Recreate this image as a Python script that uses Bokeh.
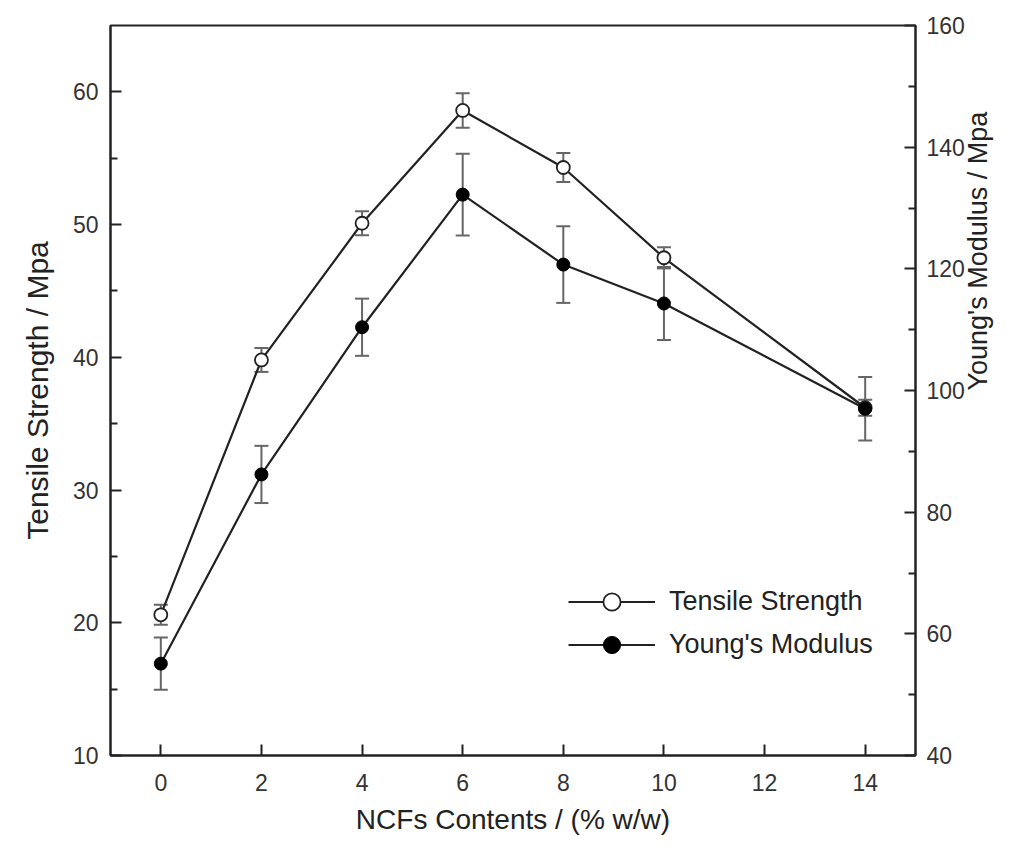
import math
from bokeh.plotting import figure
from bokeh.models import (Range1d, LinearAxis, FixedTicker, ColumnDataSource, Whisker,
                          TeeHead, Legend, LegendItem)
from bokeh.embed import file_html
from bokeh.resources import INLINE

# ---- data ----
ncf_content = [0, 2, 4, 6, 8, 10, 14]
tensile_strength = [20.6, 39.8, 50.1, 58.6, 54.3, 47.5, 36.2]
tensile_err = [0.75, 0.9, 0.9, 1.3, 1.1, 0.8, 0.6]
youngs_modulus = [55.1, 86.2, 110.4, 132.2, 120.7, 114.3, 97.0]
youngs_err = [4.3, 4.7, 4.7, 6.7, 6.3, 6.0, 5.2]

x_ticks = [0, 2, 4, 6, 8, 10, 12, 14]
left_ticks = [10, 20, 30, 40, 50, 60]
left_minor = [15, 25, 35, 45, 55]
right_ticks = [40, 60, 80, 100, 120, 140, 160]
right_minor = [50, 70, 90, 110, 130, 150]

FONT = "Liberation Sans"
INK = "#222222"
ERR = "#666666"

p = figure(width=1010, height=841, output_backend="svg", toolbar_location=None,
           x_range=Range1d(-1, 15), y_range=Range1d(10, 65),
           min_border_left=110, min_border_right=84, min_border_top=25, min_border_bottom=86)
p.extra_y_ranges = {"y2": Range1d(40, 160)}
p.xgrid.visible = False
p.ygrid.visible = False
p.outline_line_color = INK
p.outline_line_width = 2
p.background_fill_color = "white"
p.border_fill_color = "white"

def style_axis(ax):
    ax.axis_line_color = INK
    ax.axis_line_width = 2
    ax.major_tick_line_color = INK
    ax.minor_tick_line_color = INK
    ax.major_tick_line_width = 2
    ax.minor_tick_line_width = 2
    ax.major_tick_in = 11
    ax.major_tick_out = 0
    ax.minor_tick_in = 7
    ax.minor_tick_out = 0
    ax.major_label_text_font = FONT
    ax.major_label_text_font_size = "23px"
    ax.major_label_text_color = "#333333"
    ax.axis_label_text_font = FONT
    ax.axis_label_text_font_style = "normal"
    ax.axis_label_text_color = INK

xa = p.xaxis[0]
style_axis(xa)
xa.ticker = FixedTicker(ticks=x_ticks, minor_ticks=[])
xa.major_label_standoff = 18
xa.axis_label = "NCFs Contents / (% w/w)"
xa.axis_label_text_font_size = "28px"
xa.axis_label_standoff = 10

ya = p.yaxis[0]
style_axis(ya)
ya.ticker = FixedTicker(ticks=left_ticks, minor_ticks=left_minor)
ya.major_label_standoff = 12
ya.axis_label = "Tensile Strength / Mpa"
ya.axis_label_text_font_size = "30px"
ya.axis_label_standoff = 16

ra = LinearAxis(y_range_name="y2")
style_axis(ra)
ra.ticker = FixedTicker(ticks=right_ticks, minor_ticks=right_minor)
ra.major_label_standoff = 11
ra.axis_label = "Young's Modulus / Mpa"
ra.axis_label_text_font_size = "27px"
ra.axis_label_standoff = 10
if "axis_label_orientation" in ra.properties():
    ra.axis_label_orientation = math.pi / 2
p.add_layout(ra, "right")

src_t = ColumnDataSource(dict(x=ncf_content, y=tensile_strength,
                              lo=[v - e for v, e in zip(tensile_strength, tensile_err)],
                              hi=[v + e for v, e in zip(tensile_strength, tensile_err)]))
src_y = ColumnDataSource(dict(x=ncf_content, y=youngs_modulus,
                              lo=[v - e for v, e in zip(youngs_modulus, youngs_err)],
                              hi=[v + e for v, e in zip(youngs_modulus, youngs_err)]))

l_t = p.line("x", "y", source=src_t, line_color=INK, line_width=2.2)
l_y = p.line("x", "y", source=src_y, line_color=INK, line_width=2.2, y_range_name="y2")

for src, rn in ((src_t, "default"), (src_y, "y2")):
    w = Whisker(base="x", lower="lo", upper="hi", source=src, y_range_name=rn,
                line_color=ERR, line_width=2,
                upper_head=TeeHead(size=14, line_color=ERR, line_width=2),
                lower_head=TeeHead(size=14, line_color=ERR, line_width=2))
    p.add_layout(w)

m_t = p.scatter("x", "y", source=src_t, marker="circle", size=13,
                fill_color="white", line_color=INK, line_width=1.8)
m_y = p.scatter("x", "y", source=src_y, marker="circle", size=13,
                fill_color="black", line_color="black", line_width=1, y_range_name="y2")

legend = Legend(items=[LegendItem(label="Tensile Strength", renderers=[l_t, m_t]),
                       LegendItem(label="Young's Modulus", renderers=[l_y, m_y])],
                location=(458, 89), padding=0, spacing=0, margin=0,
                glyph_width=87, glyph_height=43, label_height=43, label_standoff=14,
                label_text_font=FONT, label_text_font_size="27px",
                label_text_color=INK, border_line_color=None,
                background_fill_alpha=0)
p.add_layout(legend, "center")

open("out.html", "w").write(file_html(p, INLINE))
